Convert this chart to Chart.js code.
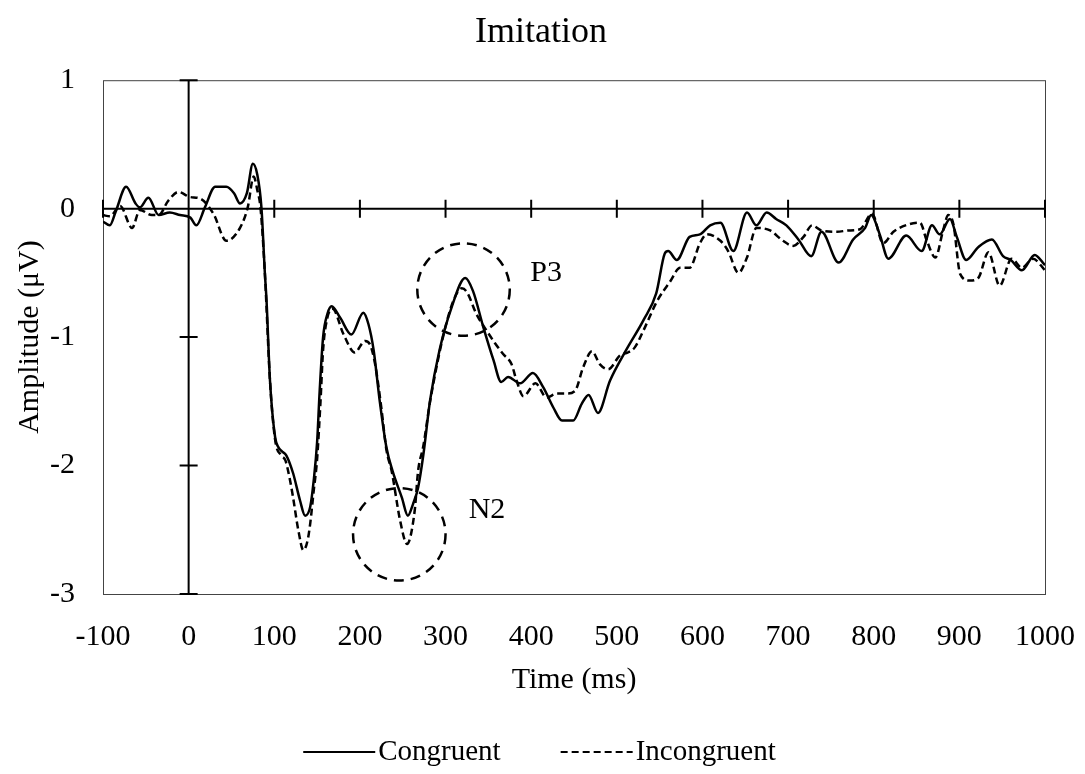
<!DOCTYPE html>
<html lang="en">
  <head>
    <meta charset="UTF-8" />
    <script src="https://cdn.jsdelivr.net/npm/chart.js"></script>
    <title>Imitation</title>
    <style>
      body { margin: 0; background: #fff; }
    </style>
  </head>
  <body>
    <canvas id="myChart" width="1085" height="774"></canvas>

    <script>
      // ERP waveforms (time in ms, amplitude in microvolts)
      const congruentTime = [
        -100, -92, -85, -73, -62, -57, -47, -35, -22, -10, 2, 9, 19, 31, 44, 53, 60, 68, 75, 80, 85,
        89, 91, 95, 101, 105, 109, 114, 122, 130, 136, 142, 146, 150, 153, 157, 162, 167, 177, 190,
        204, 210, 216, 223, 231, 238, 249, 256, 262, 268, 274, 282, 293, 307, 323, 332, 344, 356,
        365, 373, 387, 402, 414, 426, 436, 449, 459, 467, 478, 492, 511, 531, 546, 556, 560, 570,
        585, 597, 609, 621, 636, 652, 663, 675, 686, 698, 712, 727, 739, 759, 776, 790, 797, 807,
        817, 838, 856, 868, 877, 889, 897, 908, 922, 938, 951, 960, 973, 988, 1000
      ];
      const congruentAmp = [
        -0.1, -0.13, -0.02, 0.17, 0.04, 0.01, 0.085, -0.05, -0.03, -0.05, -0.07, -0.13, 0.01, 0.17,
        0.17, 0.12, 0.04, 0.12, 0.35, 0.27, 0.01,
        -0.5, -0.72, -1.34, -1.78, -1.86, -1.89, -1.92, -2.06, -2.27, -2.39, -2.32, -2.12, -1.82,
        -1.42, -1.0, -0.82, -0.76, -0.85, -0.98,
        -0.81, -0.9, -1.1, -1.49, -1.86, -2.04, -2.25, -2.39, -2.3, -2.17, -1.92, -1.49, -1.1,
        -0.77, -0.54, -0.64, -0.92, -1.18,
        -1.35, -1.31, -1.36, -1.28, -1.39, -1.55, -1.65, -1.65, -1.52, -1.45, -1.59, -1.34, -1.1,
        -0.87, -0.66, -0.35, -0.33, -0.4,
        -0.22, -0.2, -0.13, -0.11, -0.33, -0.03, -0.13, -0.03, -0.08, -0.13, -0.24, -0.37, -0.18,
        -0.42, -0.24, -0.15, -0.05, -0.2,
        -0.39, -0.21, -0.33, -0.13, -0.2, -0.08, -0.22, -0.4, -0.3, -0.24, -0.37, -0.4, -0.48,
        -0.36, -0.44
      ];

      const incongruentTime = [
        -100, -92, -80, -66, -57, -43, -35, -24, -12, 2, 13, 29, 44, 60, 69, 76, 80, 84, 89, 95,
        101, 108, 113, 118, 122, 128, 134, 139, 142, 146, 150, 154, 157, 162, 168, 181, 194, 206,
        212, 218, 225, 231, 237, 247, 255, 264, 268, 274, 282, 297, 309, 319, 325, 336, 348, 358,
        367, 377, 383, 391, 405, 418, 430, 441, 451, 461, 471, 480, 490, 504, 513, 521, 531, 547,
        562, 574, 585, 597, 605, 621, 630, 642, 652, 663, 679, 694, 706, 718, 728, 739, 757, 770,
        784, 798, 811, 823, 842, 854, 862, 872, 881, 887, 893, 901, 912, 922, 934, 947, 961, 973,
        986, 1000
      ];
      const incongruentAmp = [
        -0.05, -0.06, 0.02, -0.15, -0.01, -0.05, -0.05, 0.06, 0.13, 0.09, 0.08, -0.04, -0.25,
        -0.15, 0.01, 0.25, 0.15, 0.0, -0.5, -1.34,
        -1.8, -1.92, -1.96, -2.1, -2.25, -2.5, -2.66, -2.58, -2.45, -2.2, -1.95, -1.5, -1.1, -0.85,
        -0.78, -0.98, -1.12, -1.03,
        -1.06, -1.22, -1.55, -1.88, -2.04, -2.43, -2.61, -2.35, -2.04, -1.85, -1.5, -1.0, -0.72,
        -0.62, -0.65, -0.82, -0.95, -1.05,
        -1.13, -1.21, -1.34, -1.46, -1.36, -1.47, -1.44, -1.44, -1.42, -1.23, -1.11, -1.21, -1.25,
        -1.14, -1.12, -1.08, -0.95, -0.72,
        -0.57, -0.46, -0.46, -0.27, -0.2, -0.25, -0.33, -0.5, -0.38, -0.15, -0.17, -0.25, -0.29,
        -0.22, -0.13, -0.17, -0.18, -0.17,
        -0.16, -0.04, -0.27, -0.18, -0.12, -0.11, -0.25, -0.38, -0.17, -0.05, -0.12, -0.51, -0.56,
        -0.54, -0.34, -0.6, -0.39, -0.46,
        -0.39, -0.48
      ];

      const seriesNames = ["Congruent", "Incongruent"];

      // axis limits and tick steps
      const xRange = [-100, 1000];
      const yRange = [-3, 1];
      const xStep = 100;
      const yStep = 1;

      // component markers (circle centre in data units)
      const componentNames = ["P3", "N2"];
      const componentTime = [321, 246];
      const componentAmp = [-0.63, -2.535];
      const labelTime = [399, 327];
      const labelAmp = [-0.5, -2.35];

      const serif = "'Liberation Serif', 'Times New Roman', serif";

      function toPoints(xs, ys) {
        return xs.map((x, i) => ({ x: x, y: ys[i] }));
      }

      // frame, zero axes with cross ticks, component circles and the legend
      const decor = {
        id: "decor",
        beforeDatasetsDraw(chart) {
          const { ctx, chartArea: a, scales } = chart;
          const x0 = scales.x.getPixelForValue(0);
          const y0 = scales.y.getPixelForValue(0);
          ctx.save();
          ctx.strokeStyle = "#444";
          ctx.lineWidth = 1;
          ctx.strokeRect(a.left + 0.5, a.top + 0.5, a.width, a.height);

          ctx.strokeStyle = "#000";
          ctx.lineWidth = 2;
          ctx.beginPath();
          ctx.moveTo(a.left, y0);
          ctx.lineTo(a.right, y0);
          ctx.moveTo(x0, a.top);
          ctx.lineTo(x0, a.bottom);
          for (let t = xRange[0]; t <= xRange[1]; t += xStep) {
            const px = scales.x.getPixelForValue(t);
            ctx.moveTo(px, y0 - 9);
            ctx.lineTo(px, y0 + 9);
          }
          for (let v = yRange[0]; v <= yRange[1]; v += yStep) {
            const py = scales.y.getPixelForValue(v);
            ctx.moveTo(x0 - 9, py);
            ctx.lineTo(x0 + 9, py);
          }
          ctx.stroke();
          ctx.restore();
        },
        afterDatasetsDraw(chart) {
          const { ctx, scales } = chart;
          const r = scales.x.getPixelForValue(54) - scales.x.getPixelForValue(0);
          ctx.save();
          ctx.strokeStyle = "#000";
          ctx.lineWidth = 2.5;
          ctx.setLineDash([10, 7]);
          componentNames.forEach((name, i) => {
            const cx = scales.x.getPixelForValue(componentTime[i]);
            const cy = scales.y.getPixelForValue(componentAmp[i]);
            ctx.beginPath();
            ctx.arc(cx, cy, r, 0, Math.PI * 2);
            ctx.stroke();
          });
          ctx.setLineDash([]);
          ctx.fillStyle = "#000";
          ctx.font = "30px " + serif;
          ctx.textAlign = "left";
          ctx.textBaseline = "middle";
          componentNames.forEach((name, i) => {
            ctx.fillText(
              name,
              scales.x.getPixelForValue(labelTime[i]),
              scales.y.getPixelForValue(labelAmp[i])
            );
          });
          ctx.restore();
        },
        afterDraw(chart) {
          const ctx = chart.ctx;
          const lineLen = 72;
          const gap = 3;
          const itemGap = 60;
          const ly = 752;
          ctx.save();
          ctx.font = "29px " + serif;
          ctx.textBaseline = "middle";
          ctx.textAlign = "left";
          ctx.fillStyle = "#000";
          const widths = seriesNames.map((n) => ctx.measureText(n).width);
          const total = lineLen * 2 + gap * 2 + widths[0] + widths[1] + itemGap;
          let x = chart.width / 2 - 3 - total / 2;
          const dashes = [[], [7, 4]];
          seriesNames.forEach((name, i) => {
            ctx.strokeStyle = "#000";
            ctx.lineWidth = 2;
            ctx.setLineDash(dashes[i]);
            ctx.beginPath();
            ctx.moveTo(x, ly);
            ctx.lineTo(x + lineLen, ly);
            ctx.stroke();
            ctx.fillText(name, x + lineLen + gap, ly);
            x += lineLen + gap + widths[i] + itemGap;
          });
          ctx.restore();
        },
      };

      const config = {
        type: "line",
        data: {
          datasets: [
            {
              label: seriesNames[0],
              data: toPoints(congruentTime, congruentAmp),
              borderColor: "#000",
              borderWidth: 2.5,
              pointRadius: 0,
              cubicInterpolationMode: "monotone",
              fill: false,
            },
            {
              label: seriesNames[1],
              data: toPoints(incongruentTime, incongruentAmp),
              borderColor: "#000",
              borderWidth: 2.5,
              borderDash: [7, 4],
              pointRadius: 0,
              cubicInterpolationMode: "monotone",
              fill: false,
            },
          ],
        },
        options: {
          responsive: false,
          animation: false,
          // equal-ish side padding keeps the title centred on the page
          layout: { padding: { left: 37, right: 40, top: 0, bottom: 70 } },
          plugins: {
            legend: { display: false },
            tooltip: { enabled: false },
            title: {
              display: true,
              text: "Imitation",
              color: "#000",
              font: { family: serif, size: 36, weight: "normal" },
              padding: { top: 11, bottom: 26 },
            },
          },
          scales: {
            x: {
              type: "linear",
              min: xRange[0],
              max: xRange[1],
              grid: { display: false, drawTicks: false },
              border: { display: false },
              ticks: {
                stepSize: xStep,
                maxRotation: 0,
                color: "#000",
                padding: 25,
                font: { family: serif, size: 30 },
                callback: (value) => String(value),
              },
              title: {
                display: true,
                text: "Time (ms)",
                color: "#000",
                font: { family: serif, size: 30 },
                padding: { top: 0, bottom: 6 },
              },
              afterFit(scale) {
                scale.height = 110;
                scale.paddingLeft = 0;
                scale.paddingRight = 0;
              },
            },
            y: {
              min: yRange[0],
              max: yRange[1],
              grid: { display: false, drawTicks: false },
              border: { display: false },
              ticks: {
                stepSize: yStep,
                color: "#000",
                padding: 28,
                font: { family: serif, size: 30 },
              },
              title: {
                display: true,
                text: "Amplitude (μV)",
                color: "#000",
                font: { family: serif, size: 30 },
                padding: { top: -25, bottom: 0 },
              },
              afterFit(scale) {
                scale.width = 66;
                scale.paddingTop = 0;
                scale.paddingBottom = 0;
              },
            },
          },
        },
        plugins: [decor],
      };

      var myChart = new Chart(document.getElementById("myChart"), config);
    </script>
  </body>
</html>
